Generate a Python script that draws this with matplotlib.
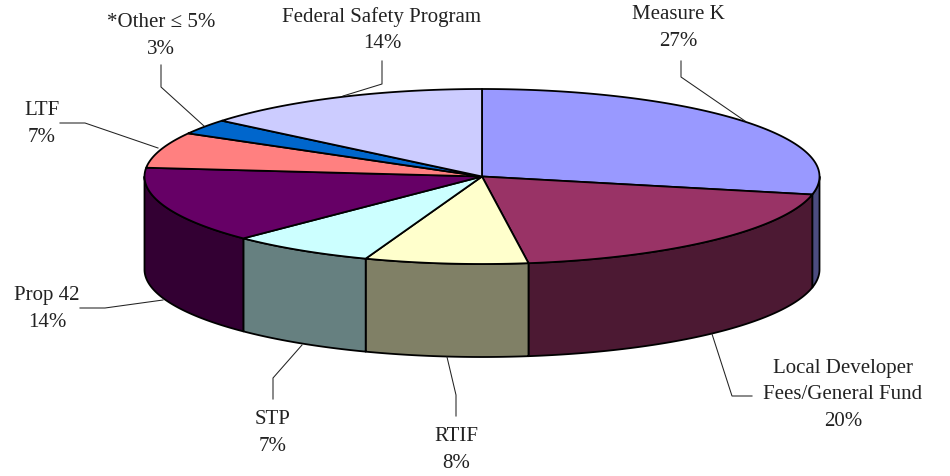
import numpy as np
import matplotlib
matplotlib.use("Agg")
import matplotlib.pyplot as plt

# shares, slightly off the rounded labels
names = ["Measure K", "Local Developer\nFees/General Fund", "RTIF", "STP", "Prop 42",
         "LTF", "*Other \u2264 5%", "Federal Safety Program"]
shares = [28.3, 19.5, 7.8, 6.9, 14.1, 6.6, 2.8, 14.0]
pct_labels = ["27%", "20%", "8%", "7%", "14%", "7%", "3%", "14%"]
top_colors = ["#9999FF", "#993366", "#FFFFCC", "#CCFFFF", "#660066", "#FF8080", "#0066CC", "#CCCCFF"]
side_colors = ["#4C4C80", "#4C1933", "#808066", "#668080", "#330033", "#804040", "#003366", "#666680"]

# pie geometry in pixels
cx, cy = 482, 177.5
rx, ry = 337.5, 87.5
depth = 93

# label centre and leader path for each slice
label_pos = [(678, 28), (843, 395), (456, 450), (273, 433), (47, 309), (42, 124), (161, 36), (382, 30)]
leaders = [
    [(681, 62), (681, 78), (745, 122)],
    [(712, 335), (732, 397), (752, 397)],
    [(447, 358), (456, 396), (456, 417)],
    [(302, 346), (273, 379), (273, 400)],
    [(163, 301), (105, 309), (80, 309)],
    [(158, 149), (85, 124), (60, 124)],
    [(204, 127), (161, 88), (161, 66)],
    [(343, 97), (382, 85), (382, 62)],
]

plt.rcParams["font.family"] = ["Liberation Serif", "DejaVu Serif"]

fig = plt.figure(figsize=(9.5, 4.77), dpi=100)
ax = fig.add_axes([0, 0, 1, 1])
ax.set_xlim(0, 950)
ax.set_ylim(477, 0)
ax.axis("off")


def rim(t):
    return cx + rx * np.sin(t), cy - ry * np.cos(t)


edges = np.radians(np.concatenate([[0], np.cumsum(shares)]) / sum(shares) * 360)

# side walls, only the front half of the rim shows
for i in range(len(shares)):
    a = max(edges[i], np.pi / 2)
    b = min(edges[i + 1], 3 * np.pi / 2)
    if a >= b:
        continue
    t = np.linspace(a, b, 200)
    x, y = rim(t)
    ax.fill(np.r_[x, x[::-1]], np.r_[y, y[::-1] + depth], fc=side_colors[i], ec="black", lw=1.3, joinstyle="round")

# top faces
for i in range(len(shares)):
    t = np.linspace(edges[i], edges[i + 1], 200)
    x, y = rim(t)
    ax.fill(np.r_[cx, x], np.r_[cy, y], fc=top_colors[i], ec="black", lw=1.3, joinstyle="round")

for name, pct, pos, path in zip(names, pct_labels, label_pos, leaders):
    ax.text(pos[0], pos[1], name + "\n" + pct, ha="center", va="center", fontsize=15,
            color="#222222", linespacing=1.56)
    ax.plot([p[0] for p in path], [p[1] for p in path], color="#222222", lw=0.75)

fig.savefig("out.png", dpi=100)
